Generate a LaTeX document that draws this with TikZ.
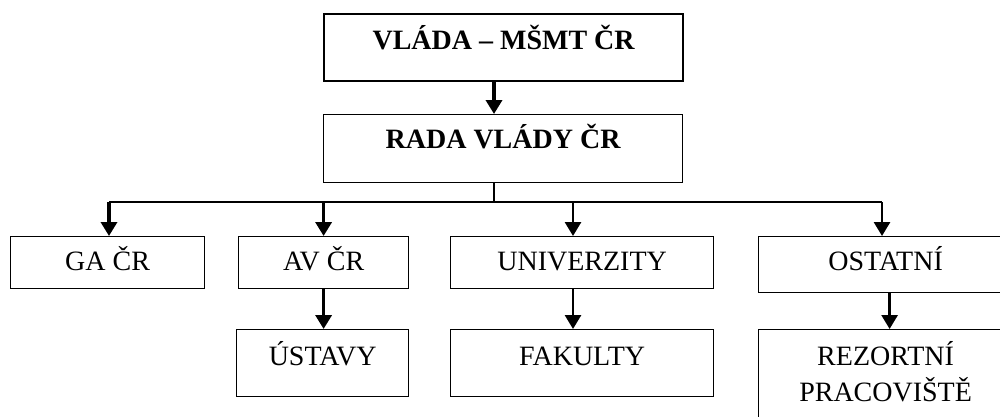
\documentclass[tikz,border=0pt]{standalone}
\usepackage{fontspec}
\setmainfont{Liberation Serif}
\usetikzlibrary{arrows.meta}
\begin{document}
\begin{tikzpicture}[x=1pt,y=-1pt,
  box/.style={draw=black, line width=1.2pt, inner sep=0pt, anchor=north west,
    font=\fontsize{28}{34}\selectfont},
  headbox/.style={box, font=\fontsize{28}{34}\selectfont\bfseries},
  lbl/.style={anchor=base, font=\fontsize{28}{34}\selectfont},
  arr/.style={line width=3.4pt, -{Triangle[length=14pt,width=16pt]}},
  arrthin/.style={line width=2.8pt, -{Triangle[length=14pt,width=16pt]}},
  tree/.style={line width=1.2pt}]
\useasboundingbox (0,0) rectangle (1000,416);
\fill[white] (0,0) rectangle (1000,416);
% boxes
\node[headbox, line width=2.2pt, minimum width=359pt, text height=35pt, text depth=32pt] (vlada) at (323,13) {VLÁDA – MŠMT ČR};
\node[headbox, minimum width=359pt, text height=34pt, text depth=34pt] (rada) at (323,114) {RADA VLÁDY ČR};
\node[box, minimum width=194pt, text height=34pt, text depth=18pt] (ga) at (10,236) {GA ČR};
\node[box, minimum width=170pt, text height=34pt, text depth=18pt] (av) at (238,236) {AV ČR};
\node[box, minimum width=263pt, text height=34pt, text depth=18pt] (univ) at (450,236) {UNIVERZITY};
\node[box, minimum width=254pt, text height=34pt, text depth=22pt] (ostatni) at (758,236) {OSTATNÍ};
\node[box, minimum width=172pt, text height=36pt, text depth=31pt] (ustavy) at (236,329) {ÚSTAVY};
\node[box, minimum width=263pt, text height=36pt, text depth=31pt] (fakulty) at (450,329) {FAKULTY};
\node[box, minimum width=254pt, minimum height=111pt,
  label={[lbl, yshift=-36pt]north:REZORTNÍ},
  label={[lbl, yshift=-72pt]north:PRACOVIŠTĚ}] (rezort) at (758,329) {};
% junction coordinates
\coordinate (j) at (494,202);
\coordinate (jl) at (109,202);
\coordinate (ju) at (573,202);
\coordinate (jr) at (882,202);
% connectors
\draw[arr] (vlada.south -| j) -- (rada.north -| j);
\draw[tree] (rada.south -| j) -- (j);
\draw[tree] (jl) -- (jr);
\draw[arr] (jl) -- (jl |- ga.north);
\draw[arr] (j -| av.north) -- (av.north);
\draw[arrthin] (ju) -- (ju |- univ.north);
\draw[arrthin] (jr) -- (jr |- ostatni.north);
\draw[arr] (av.south) -- (av.south |- ustavy.north);
\draw[arrthin] (univ.south -| ju) -- (fakulty.north -| ju);
\draw[arrthin] ([xshift=4pt]ostatni.south) -- ([xshift=4pt]ostatni.south |- rezort.north);
\end{tikzpicture}
\end{document}
